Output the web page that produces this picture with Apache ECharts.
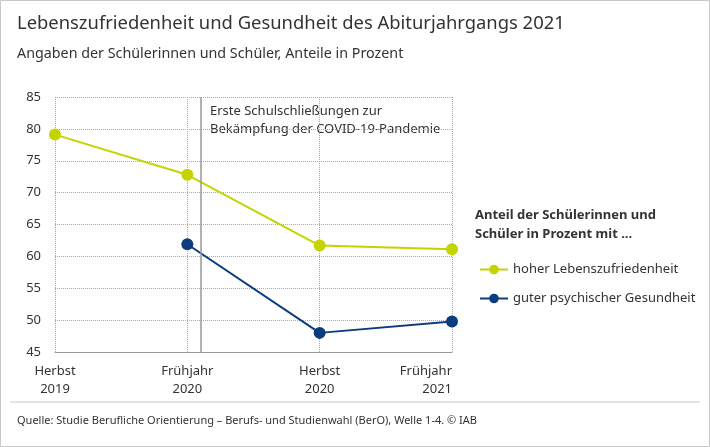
<!DOCTYPE html>
<html><head><meta charset="utf-8">
<script src="https://cdn.jsdelivr.net/npm/echarts@6/dist/echarts.min.js"></script>
<style>html,body{margin:0;padding:0;background:#fff}#c{width:710px;height:447px}</style>
</head><body><div id="c"></div>
<script>
const categories = ['Herbst\n2019','Frühjahr\n2020','Herbst\n2020','Frühjahr\n2021'];
const seriesNames = ['hoher Lebenszufriedenheit','guter psychischer Gesundheit'];
const zufriedenheit = [79.1, 72.8, 61.7, 61.1];
const gesundheit = [null, 61.9, 48.0, 49.8];
const yTicks = [45,50,55,60,65,70,75,80,85];
const eventPos = 1.1;

const font = 'Noto Sans';
const chart = echarts.init(document.getElementById('c'));
const pairs = arr => arr.map((v,i)=> v==null?null:[i,v]).filter(x=>x);
chart.setOption({
  animation:false,
  textStyle:{fontFamily:font},
  graphic:[
    {type:'rect',shape:{x:0.5,y:0.5,width:709,height:446},style:{fill:'none',stroke:'#c8c8c8',lineWidth:1}},
    {type:'text',left:17,top:15,style:{text:'Lebenszufriedenheit und Gesundheit des Abiturjahrgangs 2021',font:'18.4px "Noto Sans"',fill:'#333'}},
    {type:'text',left:17,top:47,style:{text:'Angaben der Schülerinnen und Schüler, Anteile in Prozent',font:'14.3px "Noto Sans"',fill:'#333'}},
    {type:'line',shape:{x1:10,y1:402,x2:700,y2:402},style:{stroke:'#c8c8c8',lineWidth:1}},
    {type:'text',left:17,top:415,style:{text:'Quelle: Studie Berufliche Orientierung – Berufs- und Studienwahl (BerO), Welle 1-4. © IAB',font:'11px "Noto Sans"',fill:'#333'}},
    {type:'text',left:475,top:206,style:{text:'Anteil der Schülerinnen und\nSchüler in Prozent mit ...',font:'bold 13px "Noto Sans"',lineHeight:19,fill:'#333'}},
    {type:'text',left:210,top:102,style:{text:'Erste Schulschließungen zur\nBekämpfung der COVID-19-Pandemie',font:'13px "Noto Sans"',lineHeight:18,fill:'#333'}}
  ],
  legend:{left:474,top:258,orient:'vertical',itemGap:16,itemWidth:28,itemHeight:12,
    textStyle:{fontSize:13,color:'#333',fontFamily:font},data:seriesNames},
  grid:{left:55,right:258,top:97,bottom:95},
  xAxis:{type:'value',min:0,max:3,interval:1,
    axisLine:{show:true,lineStyle:{color:'#999'}},axisTick:{show:false},
    splitLine:{show:true,lineStyle:{type:'dotted',color:'#aaa'}},
    axisLabel:{formatter:v=>categories[v]||'',color:'#333',fontSize:13,lineHeight:18,margin:10,
      alignMinLabel:'center',alignMaxLabel:'right'}},
  yAxis:{type:'value',min:yTicks[0],max:yTicks[yTicks.length-1],interval:5,
    axisLine:{show:false},axisTick:{show:false},
    splitLine:{lineStyle:{type:'dotted',color:'#aaa'}},
    axisLabel:{color:'#333',fontSize:13,margin:14}},
  series:[
    {name:seriesNames[0],type:'line',data:pairs(zufriedenheit),color:'#c3d400',
      lineStyle:{width:2},symbol:'circle',symbolSize:12,
      markLine:{silent:true,symbol:'none',label:{show:false},lineStyle:{color:'#999',type:'solid',width:1.5},
        data:[{xAxis:eventPos}]}},
    {name:seriesNames[1],type:'line',data:pairs(gesundheit),color:'#0b3d7e',
      lineStyle:{width:2},symbol:'circle',symbolSize:12}
  ]
});
</script></body></html>
